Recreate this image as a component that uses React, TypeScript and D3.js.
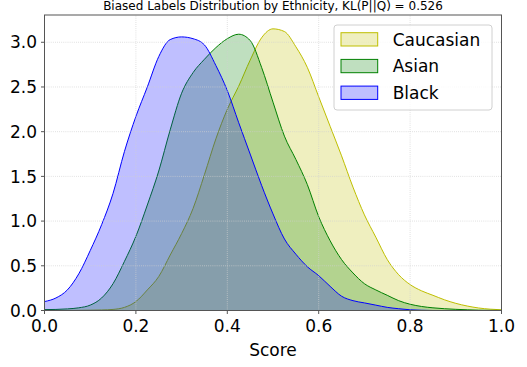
import * as d3 from 'd3'
import { useEffect } from 'react'

// score grid, every 0.025 from 0 to 1
const scores = d3.range(41).map(i => +(i * 0.025).toFixed(3))

const caucasian = [
  0.0, 0.0, 0.001, 0.002, 0.004, 0.006, 0.012, 0.035, 0.10, 0.23,
  0.38, 0.62, 0.86, 1.14, 1.52, 1.92, 2.25, 2.51, 2.80, 3.05,
  3.15, 3.12, 2.95, 2.72, 2.39, 2.06, 1.73, 1.38, 1.07, 0.82,
  0.57, 0.40, 0.29, 0.22, 0.17, 0.12, 0.08, 0.05, 0.028, 0.015,
  0.008,
]

const asian = [
  0.01, 0.012, 0.018, 0.03, 0.06, 0.14, 0.30, 0.55, 0.83, 1.18,
  1.56, 2.02, 2.43, 2.66, 2.81, 2.94, 3.04, 3.09, 3.02, 2.72,
  2.33, 1.95, 1.69, 1.41, 1.05, 0.78, 0.57, 0.42, 0.30, 0.23,
  0.17, 0.11, 0.07, 0.045, 0.03, 0.02, 0.013, 0.008, 0.004, 0.002,
  0.001,
]

const black = [
  0.10, 0.14, 0.23, 0.41, 0.67, 0.96, 1.31, 1.78, 2.17, 2.50,
  2.84, 3.03, 3.06, 3.04, 2.97, 2.74, 2.46, 2.10, 1.75, 1.40,
  1.08, 0.80, 0.63, 0.49, 0.39, 0.27, 0.16, 0.11, 0.085, 0.06,
  0.035, 0.02, 0.008, 0.003, 0.0, 0.0, 0.0, 0.0, 0.0, 0.0,
  0.0,
]

const seriesNames = ['Caucasian', 'Asian', 'Black']
const seriesColors = ['#bfbf00', '#008000', '#0000ff']
const xTicks = [0, 0.2, 0.4, 0.6, 0.8, 1.0]
const yTicks = [0, 0.5, 1.0, 1.5, 2.0, 2.5, 3.0]

const W = 527
const H = 367
const margin = { left: 44.5, right: 25.5, top: 15, bottom: 56.5 }
const font = 'DejaVu Sans, sans-serif'

export default function App() {
  useEffect(() => {
    document.body.style.margin = '0'
  }, [])

  const x = d3.scaleLinear().domain([0, 1]).range([margin.left, W - margin.right])
  const y = d3.scaleLinear().domain([0, 3.305]).range([H - margin.bottom, margin.top])

  const area = d3.area<number>()
    .x((_, i) => x(scores[i]))
    .y0(y(0))
    .y1(d => y(d))
    .curve(d3.curveMonotoneX)
  const line = d3.line<number>()
    .x((_, i) => x(scores[i]))
    .y(d => y(d))
    .curve(d3.curveMonotoneX)

  const series = [caucasian, asian, black]
  const [x0, x1] = x.range()
  const [yb, yt] = y.range()

  return (
    <svg width={W} height={H} style={{ display: 'block' }} fontFamily={font}>
      <rect width={W} height={H} fill="#fff" />
      <text x={(x0 + x1) / 2} y={9.5} textAnchor="middle" fontSize={12}>
        Biased Labels Distribution by Ethnicity, KL(P||Q) = 0.526
      </text>

      {series.map((s, i) => (
        <g key={seriesNames[i]}>
          <path d={area(s) ?? ''} fill={seriesColors[i]} fillOpacity={0.25} />
          <path d={line(s) ?? ''} fill="none" stroke={seriesColors[i]} strokeWidth={1} />
        </g>
      ))}

      {/* grid */}
      <g stroke="#d0d0d0" strokeWidth={0.8} strokeDasharray="0.8,1.3">
        {xTicks.slice(1, -1).map(t => (
          <line key={'gx' + t} x1={x(t)} x2={x(t)} y1={yb} y2={yt} />
        ))}
        {yTicks.slice(1).map(t => (
          <line key={'gy' + t} x1={x0} x2={x1} y1={y(t)} y2={y(t)} />
        ))}
      </g>

      {/* frame */}
      <rect x={x0} y={yt} width={x1 - x0} height={yb - yt} fill="none" stroke="#555" strokeWidth={1} />

      {/* x axis */}
      {xTicks.map(t => (
        <g key={'xt' + t}>
          <line x1={x(t)} x2={x(t)} y1={yb} y2={yb + 3.5} stroke="#555" />
          <text x={x(t)} y={332} textAnchor="middle" fontSize={17}>{t.toFixed(1)}</text>
        </g>
      ))}
      <text x={(x0 + x1) / 2} y={356} textAnchor="middle" fontSize={17}>Score</text>

      {/* y axis */}
      {yTicks.map(t => (
        <g key={'yt' + t}>
          <line x1={x0 - 3.5} x2={x0} y1={y(t)} y2={y(t)} stroke="#555" />
          <text x={37} y={y(t)} dy="0.36em" textAnchor="end" fontSize={17}>{t.toFixed(1)}</text>
        </g>
      ))}

      {/* legend */}
      <g>
        <rect x={334} y={25} width={158} height={85} rx={3} fill="#fff" fillOpacity={0.8} stroke="#d0d0d0" />
        {seriesNames.map((n, i) => (
          <g key={'lg' + n} transform={`translate(0, ${32.7 + i * 26.7})`}>
            <rect x={341} y={0} width={36.7} height={13.3} fill={seriesColors[i]} fillOpacity={0.25} stroke={seriesColors[i]} />
            <text x={392.7} y={6.7} dy="0.36em" fontSize={17}>{n}</text>
          </g>
        ))}
      </g>
    </svg>
  )
}
